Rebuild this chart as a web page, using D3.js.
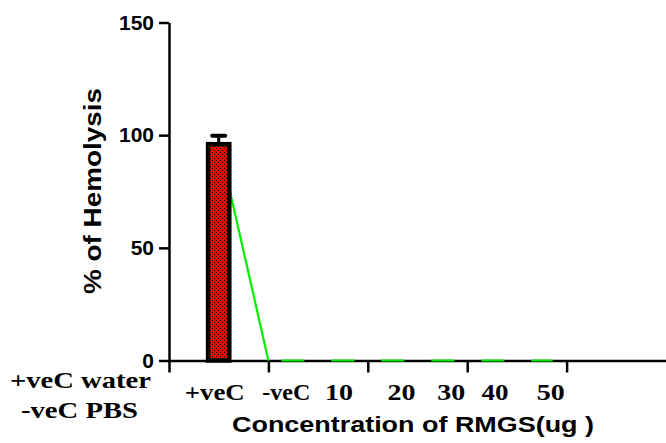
<!DOCTYPE html>
<html><head><meta charset="utf-8">
<script src="https://cdn.jsdelivr.net/npm/d3@7"></script>
<style>html,body{margin:0;padding:0;background:#fff;}svg{display:block;}</style>
</head><body>
<svg id="c" width="666" height="443"></svg>
<script>
// ---- data ----
const categories = ["+veC", "-veC", "10", "20", "30", "40", "50"];
const hemolysis = [97, 0, 0, 0, 0, 0, 0];
const sem = [2.7, 0, 0, 0, 0, 0, 0];
const yTicks = [0, 50, 100, 150];
const xTicks = [0, 1, 2, 3, 4];
const groupNote = ["+veC water", "-veC PBS"];
const xTitle = "Concentration of RMGS(ug )";
const yTitle = "% of Hemolysis";

// ---- layout ----
const svg = d3.select("#c");
const x = d3.scaleLinear().domain([0, 5]).range([169, 666]);
const y = d3.scaleLinear().domain([0, 150]).range([360.5, 22.5]);
// slot of each category along the x scale (layout)
const slot = [0.5, 1, 1.572, 2.144, 2.716, 3.288, 3.86];
const labelSlot = [0.46, 1.18, 1.71, 2.34, 2.84, 3.28, 3.84];
const labelLen = [60, 48, 28, 28, 28, 27, 28];

const defs = svg.append("defs");
const pat = defs.append("pattern").attr("id", "chk").attr("patternUnits", "userSpaceOnUse")
  .attr("width", 4).attr("height", 4);
pat.append("rect").attr("width", 4).attr("height", 4).attr("fill", "#ff0000");
pat.append("rect").attr("x", 0).attr("y", 0).attr("width", 1).attr("height", 1).attr("fill", "#000");
pat.append("rect").attr("x", 2).attr("y", 2).attr("width", 1).attr("height", 1).attr("fill", "#000");

// axes
const yAxis = d3.axisLeft(y).tickValues(yTicks).tickSize(10).tickSizeOuter(0).tickPadding(5);
const gy = svg.append("g").attr("transform", `translate(${x(0)},0)`).call(yAxis);
gy.selectAll("path,line").attr("stroke", "#000").attr("stroke-width", 2.5);
gy.selectAll("text").attr("font-family", "Liberation Sans, Arial, sans-serif")
  .attr("font-weight", "bold").attr("font-size", 21).attr("fill", "#000");

const xAxis = d3.axisBottom(x).tickValues(xTicks).tickSize(12).tickSizeOuter(0).tickFormat("");
const gx = svg.append("g").attr("transform", `translate(0,${y(0)})`).call(xAxis);
gx.selectAll("path,line").attr("stroke", "#000").attr("stroke-width", 2.5);

// connecting line
const pts = categories.map((c, i) => ({sx: slot[i], v: hemolysis[i]}));
const line = d3.line().x(d => x(d.sx)).y(d => y(d.v));
svg.append("path").attr("d", line(pts.slice(0, 2)))
  .attr("fill", "none").attr("stroke", "#00ee00").attr("stroke-width", 2.2);
svg.append("path").attr("d", line(pts.slice(1)))
  .attr("fill", "none").attr("stroke", "#00ee00").attr("stroke-width", 2.2)
  .attr("stroke-dasharray", "23 27").attr("stroke-dashoffset", 37);

// bars (only nonzero visible)
const bw = 25.7, sw = 4.5;
const barData = categories.map((c, i) => ({i, v: hemolysis[i], e: sem[i]})).filter(d => d.v > 0);
const bars = svg.append("g");
bars.selectAll("rect").data(barData).enter().append("rect")
  .attr("x", d => x(slot[d.i]) - bw / 2 + sw / 2)
  .attr("y", d => y(d.v) + sw / 2)
  .attr("width", bw - sw)
  .attr("height", d => y(0) - y(d.v) - sw / 2)
  .attr("fill", "url(#chk)").attr("stroke", "#000").attr("stroke-width", sw);
// error bars
bars.selectAll("line.stem").data(barData).enter().append("line")
  .attr("x1", d => x(slot[d.i])).attr("x2", d => x(slot[d.i]))
  .attr("y1", d => y(d.v)).attr("y2", d => y(d.v + d.e))
  .attr("stroke", "#000").attr("stroke-width", 3);
bars.selectAll("line.cap").data(barData).enter().append("line")
  .attr("x1", d => x(slot[d.i]) - 6.5).attr("x2", d => x(slot[d.i]) + 6.5)
  .attr("y1", d => y(d.v + d.e)).attr("y2", d => y(d.v + d.e))
  .attr("stroke", "#000").attr("stroke-width", 4).attr("stroke-linecap", "round");

// category labels
const serif = "Liberation Serif, Times New Roman, serif";
svg.append("g").selectAll("text").data(categories).enter().append("text")
  .attr("x", (d, i) => x(labelSlot[i])).attr("y", 400)
  .attr("text-anchor", "middle").attr("font-family", serif).attr("font-weight", "bold")
  .attr("font-size", 23.5).attr("fill", "#000")
  .attr("textLength", (d, i) => labelLen[i]).attr("lengthAdjust", "spacingAndGlyphs")
  .text(d => d);

svg.append("text").attr("x", 10).attr("y", 388).attr("font-family", serif).attr("font-weight", "bold")
  .attr("font-size", 24).attr("textLength", 141).attr("lengthAdjust", "spacingAndGlyphs").text(groupNote[0]);
svg.append("text").attr("x", 21).attr("y", 418).attr("font-family", serif).attr("font-weight", "bold")
  .attr("font-size", 24).attr("textLength", 117).attr("lengthAdjust", "spacingAndGlyphs").text(groupNote[1]);

// titles
svg.append("text").attr("x", 232).attr("y", 432)
  .attr("font-family", "Liberation Sans, Arial, sans-serif").attr("font-weight", "bold")
  .attr("font-size", 22).attr("textLength", 362).attr("lengthAdjust", "spacingAndGlyphs").text(xTitle);
svg.append("text").attr("transform", "translate(101,294) rotate(-90)")
  .attr("font-family", "Liberation Sans, Arial, sans-serif").attr("font-weight", "bold")
  .attr("font-size", 23).attr("textLength", 206).attr("lengthAdjust", "spacingAndGlyphs").text(yTitle);
</script>
</body></html>
